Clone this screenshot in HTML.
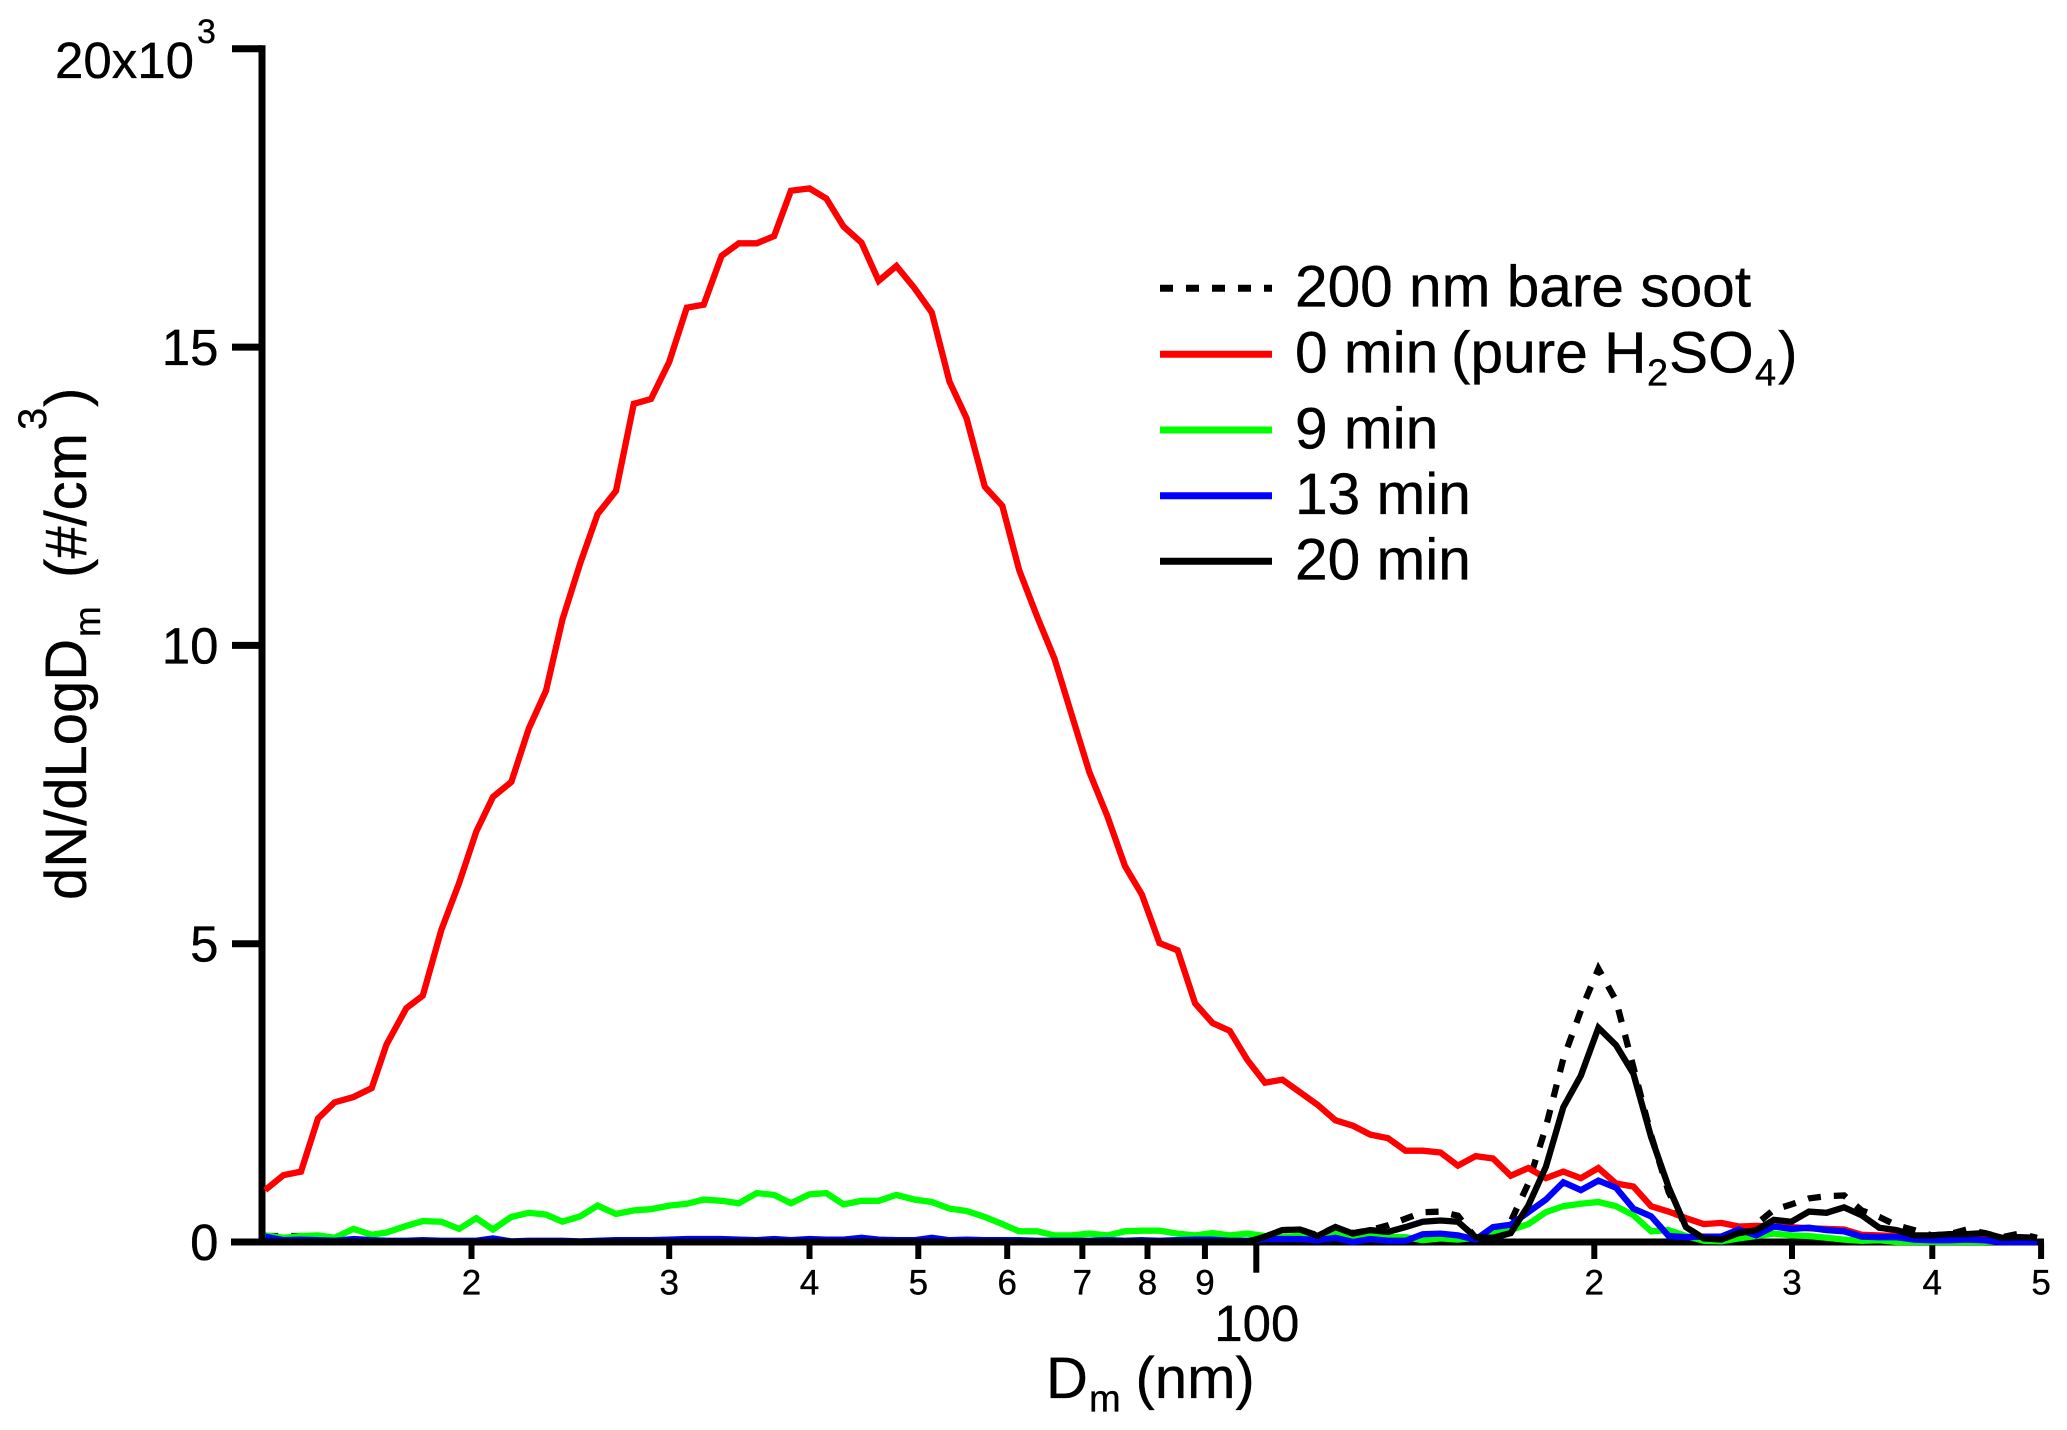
<!DOCTYPE html>
<html lang="en">
<head>
<meta charset="utf-8">
<title>Size distribution chart</title>
<style>
html,body{margin:0;padding:0;background:#fff;}
svg{display:block;}
text{font-family:"Liberation Sans",sans-serif;fill:#000;stroke:#000;stroke-width:.35px;}
</style>
</head>
<body>
<svg id="chart" xmlns="http://www.w3.org/2000/svg" width="2067" height="1430" viewBox="0 0 2067 1430">
  <g id="base-layer"></g>
  <g id="series-layer"></g>
  <g id="top-layer"></g>
  <g id="labels-layer"></g>

  <text transform="translate(86,900) rotate(-90)" font-size="58"><tspan x="0" y="0">dN/dLogD</tspan><tspan x="263" y="14" font-size="37">m</tspan><tspan x="322" y="0">(#/cm</tspan><tspan x="470" y="-40" font-size="40">3</tspan><tspan x="493" y="0">)</tspan></text>

  <text font-size="58"><tspan x="1046" y="1398">D</tspan><tspan x="1089" y="1411.5" font-size="38">m</tspan><tspan x="1135.5" y="1398">(nm)</tspan></text>

  <g>
    <g>
      <line x1="1160" x2="1272" y1="288.3" y2="288.3" stroke="#000" stroke-width="7" stroke-dasharray="13 13"></line>
      <text x="1295" y="306.7" font-size="58.6">200 nm bare soot</text>
    </g>
    <g>
      <line x1="1160" x2="1272" y1="354.3" y2="354.3" stroke="#ff0000" stroke-width="7"></line>
      <text font-size="58.6"><tspan x="1295" y="372.3">0 min</tspan><tspan x="1451" y="372.3">(pure H</tspan><tspan x="1647" y="385.7" font-size="38">2</tspan><tspan x="1669" y="372.3">SO</tspan><tspan x="1755" y="385.7" font-size="38">4</tspan><tspan x="1778" y="372.3">)</tspan></text>
    </g>
    <g>
      <line x1="1160" x2="1272" y1="430" y2="430" stroke="#00ff00" stroke-width="7"></line>
      <text x="1295" y="448.3" font-size="58.6">9 min</text>
    </g>
    <g>
      <line x1="1160" x2="1272" y1="495.7" y2="495.7" stroke="#0000ff" stroke-width="7"></line>
      <text x="1295" y="514" font-size="58.6">13 min</text>
    </g>
    <g>
      <line x1="1160" x2="1272" y1="561.3" y2="561.3" stroke="#000" stroke-width="7"></line>
      <text x="1295" y="579.3" font-size="58.6">20 min</text>
    </g>
  </g>
</svg>

<script>
// Mobility diameter channels (nm)
var diameters = [
13.1,13.6,14.1,14.6,15.1,15.7,16.3,16.8,17.5,18.1,
18.8,19.5,20.2,20.9,21.7,22.5,23.3,24.1,25.0,25.9,
26.9,27.9,28.9,30.0,31.1,32.2,33.4,34.6,35.9,37.2,
38.5,40.0,41.4,42.9,44.5,46.1,47.8,49.6,51.4,53.3,
55.2,57.3,59.4,61.5,63.8,66.1,68.5,71.0,73.7,76.4,
79.1,82.0,85.1,88.2,91.4,94.7,98.2,101.8,105.5,109.4,
113.4,117.6,121.9,126.3,131.0,135.8,140.7,145.9,151.2,156.8,
162.5,168.5,174.7,181.1,187.7,194.6,201.7,209.1,216.7,224.7,
232.9,241.4,250.3,259.5,269.0,278.8,289.0,299.6,310.6,322.0,
333.8,346.0,358.7,371.8,385.4,399.5,414.2,429.4,445.1,461.4,
478.3,495.8];

// dN/dLogDm in thousands per cm3
var bareSoot = [
.1,.1,.1,.05,0,0,0,0,0,0,
0,0,0,0,0,0,0,0,0,0,
0,0,0,0,0,0,0,0,0,0,
0,0,0,0,0,0,0,0,0,0,
0,0,0,0,0,0,0,0,0,0,
0,0,0,0,0,0,0,.09,.20,.21,
.11,.25,.15,.20,.28,.39,.50,.51,.44,.07,
.08,.34,.98,1.93,3.07,3.88,4.58,4.05,2.93,1.79,
.84,.25,.06,.04,.20,.30,.54,.63,.73,.77,
.78,.53,.42,.28,.20,.11,.13,.21,.15,.08,
.14,.07];

var min0 = [
.87,1.12,1.18,2.07,2.34,2.43,2.58,3.31,3.92,4.13,
5.23,6.02,6.88,7.46,7.71,8.61,9.24,10.43,11.38,12.20,
12.59,14.05,14.13,14.75,15.66,15.71,16.53,16.74,16.74,16.86,
17.62,17.66,17.49,17.02,16.75,16.11,16.36,15.99,15.58,14.42,
13.81,12.66,12.34,11.26,10.48,9.78,8.83,7.88,7.13,6.30,
5.82,5.01,4.89,4.00,3.67,3.54,3.05,2.67,2.72,2.51,
2.30,2.04,1.95,1.80,1.74,1.53,1.53,1.50,1.28,1.44,
1.40,1.11,1.24,1.07,1.18,1.07,1.24,.98,.93,.60,
.51,.40,.30,.32,.26,.27,.26,.25,.23,.22,
.21,.12,.11,.10,.08,.07,.06,.06,.05,.04,
.03,.03];

var min9 = [
.11,.07,.10,.11,.07,.22,.12,.16,.27,.35,
.34,.22,.40,.21,.42,.49,.46,.34,.43,.61,
.47,.53,.55,.61,.64,.71,.69,.65,.82,.79,
.65,.80,.82,.63,.69,.69,.79,.71,.67,.56,
.52,.42,.30,.18,.18,.11,.11,.14,.11,.18,
.19,.19,.14,.11,.15,.11,.14,.10,.08,.11,
.07,.14,.07,.13,.08,.08,.03,.06,.04,.07,
.14,.20,.30,.50,.60,.64,.67,.60,.45,.18,
.20,.10,.02,.01,.06,.10,.14,.11,.10,.07,
.04,.02,.03,0,0,0,0,0,0,.02,
.03,.01];

var min13 = [
.09,.03,.04,.03,.02,.05,.03,.02,.02,.03,
.02,.02,.02,.06,.01,.02,.02,.02,.01,.02,
.03,.03,.03,.04,.05,.05,.05,.04,.03,.05,
.03,.05,.04,.04,.07,.04,.03,.03,.07,.03,
.04,.03,.03,.03,.02,.02,.02,.02,.03,.02,
.03,.02,.03,.04,.04,.02,.02,.05,.05,.05,
.03,.07,0,.05,.02,.02,.13,.14,.11,.04,
.25,.29,.50,.71,1.00,.87,1.03,.91,.56,.43,
.10,.08,.09,.09,.21,.11,.26,.22,.24,.20,
.18,.09,.08,.08,.04,.03,.03,.04,.03,0,
0,0];

var min20 = [
0,0,0,0,0,0,0,0,0,0,
0,0,0,0,0,0,0,0,0,0,
0,0,0,0,0,0,0,0,0,0,
0,0,0,0,0,0,0,0,0,0,
0,0,0,0,0,0,0,0,0,0,
0,0,0,0,0,0,0,.09,.20,.21,
.10,.25,.14,.20,.17,.25,.34,.36,.34,.08,
.07,.15,.61,1.26,2.26,2.79,3.59,3.30,2.82,1.76,
.92,.25,.06,.04,.15,.20,.37,.34,.51,.49,
.58,.45,.24,.20,.11,.11,.13,.13,.15,.07,
.08,.07];

// Axis ticks
var xMinorTicks = [20,30,40,50,60,70,80,90,200,300,400,500];
var xMinorLabels = ["2","3","4","5","6","7","8","9","2","3","4","5"];
var xMajorTicks = [100];
var xMajorLabels = ["100"];
var yTicks = [0,5,10,15,20];
var yTickLabels = ["0","5","10","15","20x10"];
var yTopExponent = "3";

var NS = "http://www.w3.org/2000/svg";
function xScale(d){ return 1256.3 + 1122.8 * Math.log10(d / 100); }
function yScale(v){ return 1242 - v * 59.66; }

function makeLine(parent, x1, y1, x2, y2, w){
  var l = document.createElementNS(NS, "line");
  l.setAttribute("x1", x1);
  l.setAttribute("y1", y1);
  l.setAttribute("x2", x2);
  l.setAttribute("y2", y2);
  l.setAttribute("stroke", "#000");
  l.setAttribute("stroke-width", w);
  parent.appendChild(l);
  return l;
}
function makeText(parent, x, y, size, anchor, str){
  var t = document.createElementNS(NS, "text");
  t.setAttribute("x", x);
  t.setAttribute("y", y);
  t.setAttribute("font-size", size);
  t.setAttribute("text-anchor", anchor);
  t.textContent = str;
  parent.appendChild(t);
  return t;
}

var base = document.getElementById("base-layer");
var seriesLayer = document.getElementById("series-layer");
var topLayer = document.getElementById("top-layer");
var labels = document.getElementById("labels-layer");

var yAxisLine = makeLine(base, 262, yScale(20) - 3.5, 262, yScale(0) + 3.5, 7);



var xAxisLine = makeLine(base, 231, yScale(0), 2044, yScale(0), 7);



yTicks.forEach(function(v, i){
  var y = yScale(v);
  var tick = makeLine(base, 232, y, 262, y, 7);
  
  
  if (v === yTicks[yTicks.length - 1]) {
    var top = makeText(labels, 55, y + 29, 51, "start", yTickLabels[i]);
    
    
    var sup = makeText(labels, 197, y - 6, 34, "start", yTopExponent);
    
    
  } else {
    var lab = makeText(labels, 218.5, y + 18, 51, "end", yTickLabels[i]);
    
    
  }
});

xMinorTicks.forEach(function(d, i){
  var x = xScale(d);
  var tick = makeLine(base, x, yScale(0), x, 1259, 6);
  
  
  var lab = makeText(labels, x, 1294.3, 35, "middle", xMinorLabels[i]);
  
  
});

xMajorTicks.forEach(function(d, i){
  var x = xScale(d);
  var tick = makeLine(base, x, yScale(0), x, 1272.7, 6);
  
  
  var lab = makeText(labels, x + 0.5, 1341, 51, "middle", xMajorLabels[i]);
  
  
});

function buildPoints(values){
  return values.map(function(v, i){
    return xScale(diameters[i]).toFixed(1) + "," + yScale(v).toFixed(1);
  }).join(" ");
}

var soot = document.createElementNS(NS, "polyline");
soot.setAttribute("points", buildPoints(bareSoot));
soot.setAttribute("fill", "none");
soot.setAttribute("stroke", "#000");
soot.setAttribute("stroke-width", "6.3");
soot.setAttribute("stroke-dasharray", "13 13");


seriesLayer.appendChild(soot);

var red = document.createElementNS(NS, "polyline");
red.setAttribute("points", buildPoints(min0));
red.setAttribute("fill", "none");
red.setAttribute("stroke", "#ff0000");
red.setAttribute("stroke-width", "6.3");


seriesLayer.appendChild(red);

var green = document.createElementNS(NS, "polyline");
green.setAttribute("points", buildPoints(min9));
green.setAttribute("fill", "none");
green.setAttribute("stroke", "#00ff00");
green.setAttribute("stroke-width", "6.3");


seriesLayer.appendChild(green);

var blue = document.createElementNS(NS, "polyline");
blue.setAttribute("points", buildPoints(min13));
blue.setAttribute("fill", "none");
blue.setAttribute("stroke", "#0000ff");
blue.setAttribute("stroke-width", "6.3");


seriesLayer.appendChild(blue);

var black = document.createElementNS(NS, "polyline");
black.setAttribute("points", buildPoints(min20));
black.setAttribute("fill", "none");
black.setAttribute("stroke", "#000");
black.setAttribute("stroke-width", "6.3");


seriesLayer.appendChild(black);

// The axis sits over the traces below 100 nm
var overlay = makeLine(topLayer, 231, yScale(0), xScale(100), yScale(0), 7);


</script>
</body>
</html>
